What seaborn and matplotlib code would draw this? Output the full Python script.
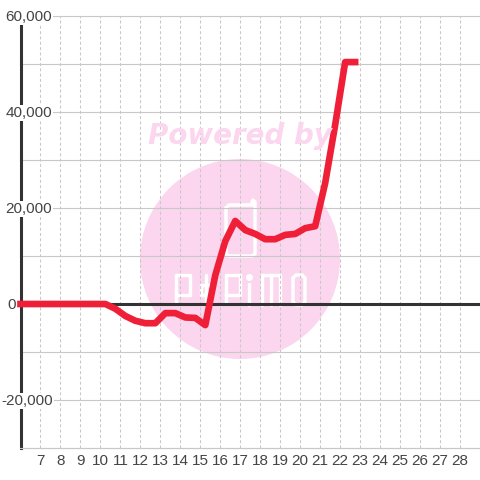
import matplotlib
matplotlib.use('Agg')
import matplotlib.pyplot as plt
import matplotlib.transforms as mtrans
from matplotlib.patches import Circle
import pandas as pd
import seaborn as sns

# chart data
days = [6.0, 6.75, 7.75, 8.75, 9.75, 10.25, 10.75, 11.25, 11.75, 12.25, 12.75, 13.25, 13.75,
        14.25, 14.75, 15.25, 15.75, 16.25, 16.75, 17.25, 17.75, 18.25, 18.75, 19.25,
        19.75, 20.25, 20.75, 21.25, 21.75, 22.25, 22.75]
values = [0, 0, 0, 0, 0, 0, -1000, -2500, -3500, -4000, -4000, -1900, -1900,
          -2800, -2900, -4400, 6000, 13100, 17300, 15400, 14600, 13500, 13500, 14400,
          14600, 15800, 16200, 25200, 37300, 50400, 50400]
x_ticks = list(range(7, 29))
y_labelled = [60000, 40000, 20000, 0, -20000]
y_label_text = ['60,000', '40,000', '20,000', '0', '-20,000']
y_label_right = [52, 52, 52, 16, 53]
y_all = [60000, 50000, 40000, 30000, 20000, 10000, 0, -10000, -20000, -30000]

sns.set_theme(style='white', rc={'axes.linewidth': 1, 'path.simplify': False})
plt.rcParams['font.family'] = ['Liberation Sans', 'DejaVu Sans']

fig = plt.figure(figsize=(4.8, 4.8), dpi=100, facecolor='white')
ax = fig.add_axes([20.5 / 480, 32 / 480, 459.5 / 480, 432 / 480])
ax.set_xlim(6, 29)
ax.set_ylim(-30000, 60000)

TEXT = '#444444'
GRID = '#c8c8c8'
DARK = '#333333'
PINK = '#fbd6ee'


def px(x, y):
    return x / 480, 1 - y / 480


# watermark, drawn under the grid
ax.add_patch(Circle(px(240, 259), 100 / 480, transform=fig.transFigure, facecolor=PINK,
                    edgecolor='none', zorder=0.1, clip_on=False))
fig.text(*px(148, 144), 'Powered by', color=PINK, fontsize=20, family='DejaVu Sans',
         weight='bold', style='italic', zorder=0)
logo = [
    [(226, 208), (226, 254), (229, 256), (252, 256), (255, 254), (255, 202), (253, 200), (252, 202), (252, 205), (229, 205), (226, 208)],
    [(176, 303), (176, 275), (190, 275), (190, 295), (176, 295)],
    [(201, 295), (201, 285), (212, 285), (212, 295), (201, 295)],
    [(206, 275), (206, 303)],
    [(226, 303), (226, 275), (240, 275), (240, 295), (226, 295)],
    [(249, 284), (249, 305)],
    [(262, 305), (262, 275), (280, 275), (280, 305)],
    [(271, 275), (271, 305)],
    [(293, 278), (293, 302), (296, 305), (302, 305), (305, 302), (305, 278), (302, 275), (296, 275), (293, 278)],
]
for seg in logo:
    ax.plot(*zip(*[px(*p) for p in seg]), color='white', lw=2.5, transform=fig.transFigure,
            zorder=0.2, clip_on=False, solid_capstyle='round')
ax.plot(*px(249, 277), 'o', color='white', ms=5, mew=0, transform=fig.transFigure, zorder=0.2)

ax.set_axisbelow(True)
ax.set_xticks(x_ticks)
ax.set_yticks(y_all)
ax.set_yticklabels([])
ax.grid(axis='y', color=GRID, lw=0.8, ls='-')
ax.grid(axis='x', color=GRID, lw=0.75, ls=(0, (2.9, 2.2)))
ax.tick_params(length=0, labelsize=11, labelcolor=TEXT, pad=4, left=False)
for gl in ax.get_ygridlines():
    gl.set_clip_on(False)

sns.despine(ax=ax, top=True, right=True)
ax.spines['left'].set_color(DARK)
ax.spines['left'].set_linewidth(2.2)
ax.spines['bottom'].set_color(GRID)
ax.spines['bottom'].set_linewidth(0.8)

ax.axhline(0, color=DARK, lw=2.2, zorder=2)

# labels sit inside the plot with a white box that cuts the axis and grid lines
trans = mtrans.blended_transform_factory(fig.transFigure, ax.transData)
shift = mtrans.ScaledTranslation(0, -1 / 100, fig.dpi_scale_trans)
for v, t, r in zip(y_labelled, y_label_text, y_label_right):
    ax.text(r / 480, v, t, transform=trans + shift, ha='right', va='center', fontsize=11, color=TEXT,
            zorder=3, clip_on=False, bbox=dict(facecolor='white', edgecolor='none', pad=0.8))

df = pd.DataFrame({'day': days, 'value': values})
sns.lineplot(data=df, x='day', y='value', color='#f01f38', lw=4.8, ax=ax, zorder=4,
             estimator=None, sort=False)
line = ax.get_lines()[-1]
line.set_solid_capstyle('projecting')
line.set_solid_joinstyle('round')
line.set_clip_on(False)
ax.set_xlabel('')
ax.set_ylabel('')

fig.savefig('out.png', dpi=100)
